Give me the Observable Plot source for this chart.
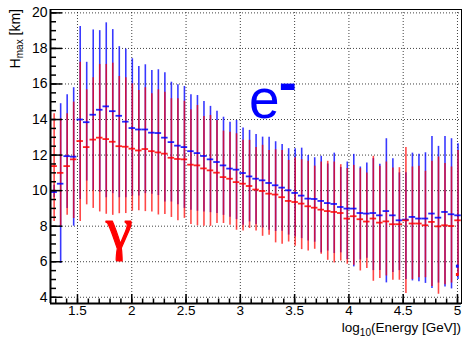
<!DOCTYPE html>
<html><head><meta charset="utf-8">
<script src="https://cdn.jsdelivr.net/npm/d3@7"></script>
<script src="https://cdn.jsdelivr.net/npm/@observablehq/plot@0.6"></script>
<style>
body{margin:0;background:#fff;}
#chart{width:462px;height:338px;position:relative;}
</style>
</head><body><div id="chart"></div>
<script>
// bin centres, log10(Energy [GeV])
const binCenters = [1.285,1.345,1.405,1.465,1.525,1.585,1.645,1.705,1.765,1.825,1.885,1.945,2.005,2.065,2.125,2.185,2.245,2.305,2.365,2.425,2.485,2.545,2.605,2.665,2.725,2.785,2.845,2.905,2.965,3.025,3.085,3.145,3.205,3.265,3.325,3.385,3.445,3.505,3.565,3.625,3.685,3.745,3.805,3.865,3.925,3.985,4.045,4.105,4.165,4.225,4.285,4.345,4.405,4.465,4.525,4.585,4.645,4.705,4.765,4.825,4.885,4.945,5.005];
const binWidth = 0.06;
// electrons (blue)
const eMean = [9.92,10.39,11.94,11.91,14.0,13.85,14.27,14.55,14.74,14.47,14.21,13.88,13.52,13.44,13.44,13.26,13.24,12.98,12.73,12.53,12.45,12.22,12.11,11.95,11.76,11.61,11.42,11.24,11.18,10.99,10.8,10.67,10.58,10.43,10.3,10.17,10.02,9.87,9.72,9.55,9.53,9.42,9.30,9.25,9.08,8.99,8.99,8.74,8.71,8.74,8.61,8.85,8.61,8.33,8.37,8.52,8.43,8.43,8.71,8.48,8.8,8.67,8.61];
const eLow  = [9.6,5.9,9.0,8.0,9.5,10.54,10.0,9.9,9.6,9.83,9.6,9.6,9.7,9.7,9.83,9.8,9.72,9.36,9.36,9.2,9.0,8.9,8.84,8.8,8.76,8.71,8.61,8.5,8.37,8.05,8.24,8.1,7.9,7.77,7.7,7.71,7.5,7.39,7.3,7.17,7.1,6.5,6.6,6.46,6.5,6.12,5.71,6.1,6.2,5.5,5.5,4.81,5.4,5.5,5.0,4.92,4.87,4.78,4.5,4.8,4.58,4.47,5.0];
const eHigh = [10.3,14.89,15.39,15.79,19.23,17.22,19.04,19.0,19.44,19.06,18.1,17.96,17.42,16.98,17.08,16.76,16.8,16.63,16.1,15.96,15.86,15.39,15.35,15.02,14.74,14.46,14.13,13.85,13.95,13.52,13.39,13.16,13.01,13.01,12.75,12.6,12.36,12.36,12.39,11.98,11.85,11.93,11.5,12.11,11.3,11.61,12.04,11.33,11.55,11.8,11.48,12.92,11.8,11.0,11.0,12.11,12.04,12.13,13.05,12.49,13.05,12.92,12.64];
// photons (red)
const gMean = [11.38,11.0,11.38,11.76,12.79,12.45,12.87,12.98,12.9,12.75,12.5,12.47,12.36,12.26,12.34,12.22,12.15,12.08,11.85,11.78,11.76,11.46,11.42,11.25,11.14,11.01,10.76,10.67,10.48,10.39,10.26,10.06,9.98,9.83,9.78,9.63,9.42,9.36,9.27,9.12,9.04,8.93,8.85,8.8,8.74,8.43,8.56,8.39,8.26,8.43,8.2,8.27,8.11,8.11,8.33,8.15,8.15,8.05,8.24,7.99,8.05,8.01,8.33];
const gLow  = [8.27,8.0,8.61,8.43,8.27,9.2,9.0,8.8,8.67,8.61,8.7,8.71,8.85,8.87,8.82,8.8,8.63,8.66,8.49,8.31,8.44,8.1,8.02,7.99,7.99,8.15,8.15,8.05,7.77,7.73,7.87,7.73,7.43,7.49,7.06,6.98,7.11,6.87,6.68,6.6,6.7,6.42,6.08,5.93,6.04,5.86,5.8,5.48,5.62,4.9,5.06,5.2,4.96,4.96,4.21,5.0,5.1,5.1,4.6,4.17,4.7,4.8,5.2];
const gHigh = [14.33,14.04,14.33,14.98,17.22,15.67,16.35,17.1,17.1,17.17,16.42,16.35,16.01,15.63,15.79,15.45,15.67,15.54,15.17,15.17,15.03,14.55,14.79,14.17,14.23,13.95,13.35,13.29,13.2,12.83,12.83,12.42,12.55,12.26,12.3,12.26,11.7,11.85,11.74,11.65,11.38,11.61,11.65,11.61,11.46,11.24,11.42,11.24,10.99,11.93,11.37,11.61,11.27,11.29,12.42,11.33,11.37,11.09,11.65,11.89,11.52,11.33,12.26];
// extra markers in last bin
const eExtra = [5.75];
const gExtra = [5.28];

const xTicks = [1.5,2,2.5,3,3.5,4,4.5,5];
const xTickLabels = ["1.5","2","2.5","3","3.5","4","4.5","5"];
const yTicks = [4,6,8,10,12,14,16,18,20];
const yTickLabels = ["4","6","8","10","12","14","16","18","20"];

const W = 462, H = 338;
const mL = 50, mR = 1, mT = 9, mB = 35;
const xDom = [1.2515, 5.037], yDom = [3.65, 20.19];
const pxX = (xDom[1]-xDom[0])/(W-mL-mR);
const pxY = (yDom[1]-yDom[0])/(H-mT-mB);

const e = binCenters.map((x,i)=>({x, m:eMean[i], lo:eLow[i], hi:eHigh[i]}));
const g = binCenters.map((x,i)=>({x, m:gMean[i], lo:gLow[i], hi:gHigh[i]}));
const last = binCenters[binCenters.length-1];
const extras = [
  ...eExtra.map(v=>({x:last, y:v, c:"#1010ff"})),
  ...gExtra.map(v=>({x:last, y:v, c:"#ff1010"}))
];

const xMinor = d3.range(13,51).map(k=>k/10).filter(v=>v>xDom[0]&&v<xDom[1]);
const yMinor = d3.range(8,41).map(k=>k/2).filter(v=>v>yDom[0]&&v<yDom[1]);

const BLUE = "#0000ff", RED = "#ff0000";
const FONT = "'Liberation Sans', Arial, sans-serif";

const plot = Plot.plot({
  width: W, height: H,
  marginLeft: mL, marginRight: mR, marginTop: mT, marginBottom: mB,
  style: {fontFamily: FONT, fontSize: "14px", background: "#fff", color: "#000"},
  x: {domain: xDom, axis: null},
  y: {domain: yDom, axis: null},
  marks: [
    // grid
    Plot.ruleX(xTicks, {x: d=>d, stroke: "#000", strokeOpacity: 0.75, strokeDasharray: "1,2"}),
    Plot.ruleY(yTicks, {y: d=>d, stroke: "#000", strokeOpacity: 0.75, strokeDasharray: "1,2"}),
    // error bars
    Plot.ruleX(e, {x: "x", y1: "lo", y2: "hi", stroke: BLUE, strokeWidth: 1.6, strokeOpacity: 0.78}),
    Plot.ruleX(g, {x: "x", y1: "lo", y2: "hi", stroke: RED, strokeWidth: 1.6, strokeOpacity: 0.72}),
    Plot.ruleY(e, {y: "m", x1: d=>d.x-binWidth/2, x2: d=>d.x+binWidth/2, stroke: BLUE, strokeWidth: 1.8, strokeOpacity: 0.85}),
    Plot.ruleY(g, {y: "m", x1: d=>d.x-binWidth/2, x2: d=>d.x+binWidth/2, stroke: RED, strokeWidth: 1.8, strokeOpacity: 0.85}),
    Plot.ruleY(extras, {y: "y", x1: d=>d.x-binWidth/4, x2: d=>d.x+binWidth/6, stroke: "c", strokeWidth: 3}),
    // frame
    Plot.frame({stroke: "#000", strokeWidth: 1}),
    Plot.ruleX([xDom[0]], {stroke: "#000", strokeWidth: 2}),
    Plot.ruleY([yDom[0]], {stroke: "#000", strokeWidth: 2}),
    // y ticks (inside)
    Plot.ruleY(yTicks, {y: d=>d, x1: xDom[0], x2: xDom[0]+12*pxX, stroke: "#000", strokeWidth: 1.5}),
    Plot.ruleY(yMinor, {y: d=>d, x1: xDom[0], x2: xDom[0]+6*pxX, stroke: "#000", strokeWidth: 1.5}),
    // x ticks (inside)
    Plot.ruleX(xTicks, {x: d=>d, y1: yDom[0], y2: yDom[0]+9*pxY, stroke: "#000", strokeWidth: 1.5}),
    Plot.ruleX(xMinor, {x: d=>d, y1: yDom[0], y2: yDom[0]+4.5*pxY, stroke: "#000", strokeWidth: 1.5}),
    // tick labels
    Plot.axisY(yTicks, {anchor: "left", tickSize: 0, tickPadding: 3, label: null, tickFormat: (d,i)=>yTickLabels[i], fontSize: 14}),
    Plot.axisX(xTicks, {anchor: "bottom", tickSize: 0, tickPadding: 2, label: null, tickFormat: (d,i)=>xTickLabels[i], fontSize: 13.5}),
    // gamma label
    Plot.text(["γ"], {x: 1.885, y: 6.75, text: d=>d, fill: RED, stroke: RED, strokeWidth: 1.2, fontSize: 60, fontFamily: "'Liberation Serif', 'Times New Roman', serif", lineAnchor: "bottom", textAnchor: "middle"})
  ]
});
document.getElementById("chart").appendChild(plot);

const svg = d3.select(plot);
const sx = plot.scale("x"), sy = plot.scale("y");

// electron label e⁻ as one text with a superscript minus
const el = svg.append("text")
  .attr("x", sx.apply(3.085)).attr("y", sy.apply(14.03))
  .attr("text-anchor", "start")
  .attr("fill", BLUE)
  .style("font-family", FONT).style("font-size", "55px");
el.append("tspan").text("e");
el.append("tspan").attr("dy", -17).attr("dx", -1).style("font-weight", "bold").style("font-size", "54px").text("-");

// axis titles with subscripts
const yt = svg.append("text")
  .attr("transform", "translate(20,9) rotate(-90)")
  .attr("text-anchor", "end")
  .style("font-family", FONT)
  .style("font-size", "14px").attr("fill", "#000");
yt.append("tspan").text("H");
yt.append("tspan").attr("dy", 3).style("font-size", "10px").text("max");
yt.append("tspan").attr("dy", -3).text(" [km]");

const xt = svg.append("text")
  .attr("x", 461).attr("y", 332)
  .attr("text-anchor", "end")
  .style("font-family", FONT)
  .style("font-size", "13.5px").attr("fill", "#000");
xt.append("tspan").text("log");
xt.append("tspan").attr("dy", 4).style("font-size", "10px").text("10");
xt.append("tspan").attr("dy", -4).text("(Energy [GeV])");
</script>
</body></html>
